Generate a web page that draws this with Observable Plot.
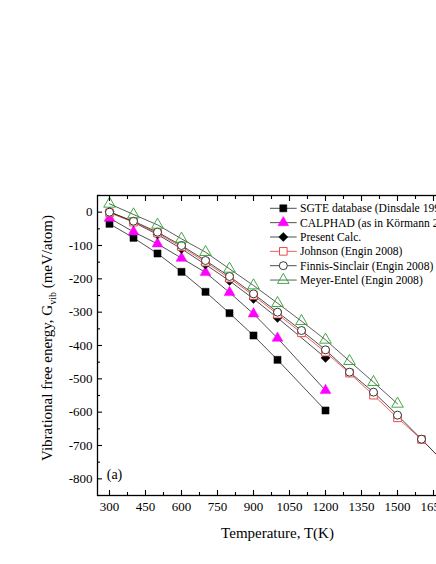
<!DOCTYPE html>
<html><head><meta charset="utf-8">
<script src="https://cdn.jsdelivr.net/npm/d3@7"></script>
<script src="https://cdn.jsdelivr.net/npm/@observablehq/plot@0.6"></script>
<style>
html,body{margin:0;padding:0;background:#fff;overflow:hidden;width:436px;height:564px;}
#chart{position:relative;width:470px;}
svg{font-family:"Liberation Serif","Times New Roman",serif;}
</style></head><body><div id="chart"></div>
<script>
// ---- data ----
const seriesNames = ["SGTE database (Dinsdale 1991)", "CALPHAD (as in Körmann 2008)", "Present Calc.", "Johnson (Engin 2008)", "Finnis-Sinclair (Engin 2008)", "Meyer-Entel (Engin 2008)"];
const sgteT = [300, 400, 500, 600, 700, 800, 900, 1000, 1200];
const sgteG = [-35, -77, -124, -179, -239, -303, -370, -443, -595];
const calphadT = [300, 400, 500, 600, 700, 800, 900, 1000, 1200];
const calphadG = [-18, -59, -95, -138, -181, -241, -305, -378, -535];
const presentT = [300, 400, 500, 600, 700, 800, 900, 1000, 1200];
const presentG = [2, -30, -67, -110, -157, -206, -260, -317, -437];
const johnsonT = [300, 400, 500, 600, 700, 800, 900, 1000, 1100, 1200, 1300, 1400, 1500, 1600, 1700];
const johnsonG = [-2, -30, -63, -104, -150, -198, -250, -306, -362, -420, -483, -549, -617, -682, -755];
const finnisT = [300, 400, 500, 600, 700, 800, 900, 1000, 1100, 1200, 1300, 1400, 1500, 1600, 1700];
const finnisG = [0, -27, -60, -100, -145, -193, -245, -300, -355, -413, -480, -540, -609, -681, -755];
const meyerT = [300, 400, 500, 600, 700, 800, 900, 1000, 1100, 1200, 1300, 1400, 1500];
const meyerG = [25, -7, -38, -80, -120, -170, -220, -273, -327, -383, -447, -510, -575];
const xTicks = [300, 450, 600, 750, 900, 1050, 1200, 1350, 1500, 1650];
const xMinor = [375, 525, 675, 825, 975, 1125, 1275, 1425, 1575, 1725];
const yTicks = [0, -100, -200, -300, -400, -500, -600, -700, -800];
const yMinor = [50, -50, -150, -250, -350, -450, -550, -650, -750, -850];
const xLabel = "Temperature, T(K)";
const yLabelMain = "Vibrational free energy, G";
const yLabelSub = "vib";
const yLabelUnit = " (meV/atom)";
const panelLabel = "(a)";

// ---- styles ----
const styleOf = [
  {symbol: "square",   fill: "black",   stroke: "black",   r: 4.0, sw: 0.5, line: "#222"},
  {symbol: "triangle", fill: "#ff00ff", stroke: "#ff00ff", r: 4.0, sw: 0.5, line: "#222"},
  {symbol: "diamond2", fill: "black",   stroke: "black",   r: 4.1, sw: 0.5, line: "#222"},
  {symbol: "square",   fill: "white",   stroke: "#e8393a", r: 4.3, sw: 0.9, line: "#e8393a"},
  {symbol: "circle",   fill: "white",   stroke: "#222",    r: 4.0, sw: 0.9, line: "#222"},
  {symbol: "triangle", fill: "none",    stroke: "#2ca02c", r: 4.3, sw: 0.9, line: "#333"}
];
const symbolTypes = {square: d3.symbolSquare, triangle: d3.symbolTriangle, diamond2: d3.symbolDiamond2, circle: d3.symbolCircle};
const pairs = [[sgteT, sgteG], [calphadT, calphadG], [presentT, presentG], [johnsonT, johnsonG], [finnisT, finnisG], [meyerT, meyerG]];
const series = seriesNames.map((name, i) => ({
  name, style: styleOf[i],
  data: pairs[i][0].map((t, j) => ({T: t, G: pairs[i][1][j]}))
}));

const lineMarks = series.map(s => Plot.line(s.data, {x: "T", y: "G", stroke: s.style.line, strokeWidth: 0.8}));
const dotMarks = series.map(s => Plot.dot(s.data, {x: "T", y: "G", symbol: s.style.symbol, r: s.style.r, fill: s.style.fill, stroke: s.style.stroke, strokeWidth: s.style.sw}));

const fmt = d => String(d);
const chart = Plot.plot({
  width: 470, height: 564,
  marginLeft: 97, marginRight: 13, marginTop: 195, marginBottom: 69,
  style: {fontFamily: '"Liberation Serif","Times New Roman",serif', fontSize: "13px", color: "black", background: "white", overflow: "visible"},
  x: {domain: [250, 1750]},
  y: {domain: [-850, 50]},
  marks: [
    ...lineMarks,
    ...dotMarks,
    Plot.frame({stroke: "black", strokeWidth: 1.3}),
    Plot.axisX({ticks: xTicks, tickFormat: fmt, tickSize: 0, tickPadding: 6, label: null}),
    Plot.axisX({ticks: xTicks, tickSize: -5, fill: "none", label: null, strokeWidth: 1.1}),
    Plot.axisX({ticks: xMinor, tickSize: -3, fill: "none", label: null, strokeWidth: 1.1}),
    Plot.axisX({anchor: "top", ticks: xTicks, tickSize: -5, fill: "none", label: null, strokeWidth: 1.1}),
    Plot.axisX({anchor: "top", ticks: xMinor, tickSize: -3, fill: "none", label: null, strokeWidth: 1.1}),
    Plot.axisY({ticks: yTicks, tickFormat: fmt, tickSize: 0, tickPadding: 5, label: null}),
    Plot.axisY({ticks: yTicks, tickSize: -5, fill: "none", label: null, strokeWidth: 1.1}),
    Plot.axisY({ticks: yMinor, tickSize: -3, fill: "none", label: null, strokeWidth: 1.1}),
    Plot.text([panelLabel], {frameAnchor: "bottom-left", dx: 17, dy: -17, text: d => d, fontSize: 14, textAnchor: "middle"}),
    Plot.text([xLabel], {frameAnchor: "bottom", dy: 42, text: d => d, fontSize: 15, textAnchor: "middle"})
  ]
});
document.getElementById("chart").appendChild(chart);

// y-axis title with subscript
const svg = d3.select(chart);
const yt = svg.append("text")
  .attr("transform", "translate(52,338) rotate(-90)")
  .attr("text-anchor", "middle")
  .attr("font-size", 15)
  .attr("fill", "black");
yt.append("tspan").text(yLabelMain);
yt.append("tspan").attr("font-size", 10).attr("dy", 4).text(yLabelSub);
yt.append("tspan").attr("dy", -4).text(yLabelUnit);

// legend (inside plot, top right)
const lg = svg.append("g").attr("font-size", 11.6).attr("fill", "black").attr("text-anchor", "start");
series.forEach((s, i) => {
  const y = 208.3 + i * 14.35;
  const g = lg.append("g").attr("transform", `translate(270,${y})`);
  g.append("line").attr("x1", 0).attr("x2", 26.7).attr("y1", 0).attr("y2", 0)
    .attr("stroke", s.style.line).attr("stroke-width", 0.8);
  g.append("path").attr("transform", "translate(13.3,0)")
    .attr("d", d3.symbol().type(symbolTypes[s.style.symbol]).size(Math.PI * s.style.r * s.style.r)())
    .attr("fill", s.style.fill).attr("stroke", s.style.stroke).attr("stroke-width", s.style.sw);
  g.append("text").attr("x", 30).attr("dy", "0.35em").attr("text-anchor", "start").text(s.name);
});
</script></body></html>
